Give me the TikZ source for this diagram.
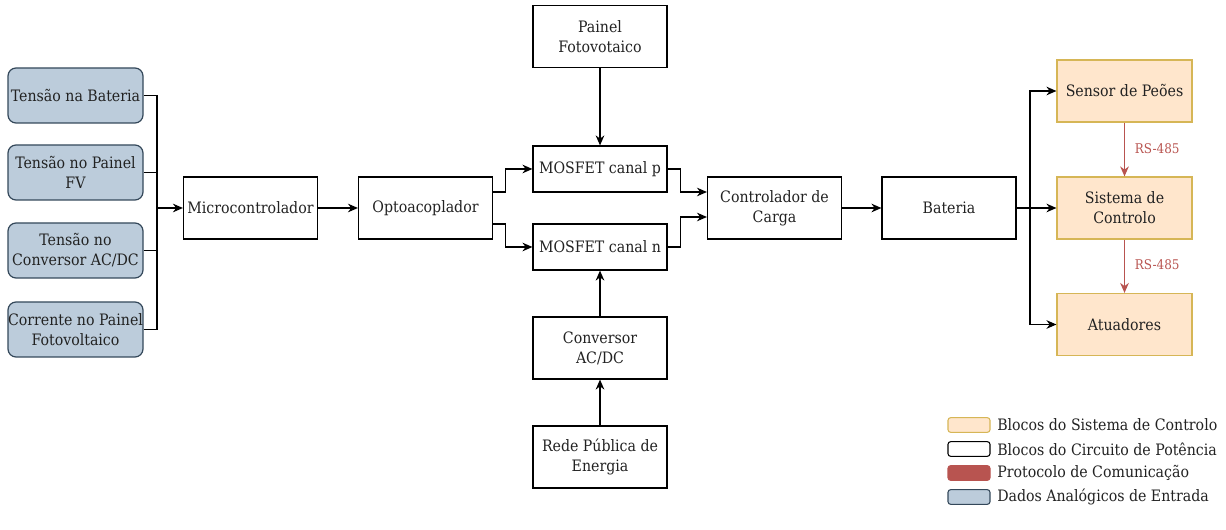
\documentclass[tikz,border=0pt]{standalone}
\usepackage{fontspec}
\setmainfont{DejaVu Serif Condensed}
\usetikzlibrary{arrows.meta}
\definecolor{txt}{HTML}{222222}
\definecolor{inFill}{HTML}{BCCCDB}
\definecolor{inLine}{HTML}{34485A}
\definecolor{ctlFill}{HTML}{FFE6CC}
\definecolor{ctlLine}{HTML}{D6B656}
\definecolor{comm}{HTML}{B85450}
\begin{document}
\begin{tikzpicture}[x=0.75pt,y=-0.75pt,
  every node/.style={text=txt, font=\fontsize{11.8}{15}\selectfont},
  base/.style={draw, line width=0.9pt, align=center, inner sep=0pt,
    minimum width=100.5pt, minimum height=46.5pt},
  pwr/.style={base, draw=black, fill=white},
  inbox/.style={base, draw=inLine, fill=inFill, rounded corners=6pt,
    minimum width=101.25pt, minimum height=41.25pt},
  ctl/.style={base, draw=ctlLine, fill=ctlFill, minimum width=101.25pt},
  wire/.style={draw=black, line width=0.9pt},
  arr/.style={wire, -{Stealth[length=7.5pt,width=6.5pt]}},
  rsarr/.style={draw=comm, line width=0.9pt, -{Stealth[length=7.5pt,width=6.5pt]}},
  rslabel/.style={text=comm, font=\fontsize{10}{12}\selectfont, anchor=west},
  swatch/.style={draw, line width=0.8pt, rounded corners=2pt,
    minimum width=31.5pt, minimum height=11pt, inner sep=0pt},
  legtxt/.style={anchor=west, inner sep=0pt}
]
\useasboundingbox (0,0) rectangle (1226,530);

% analogue input blocks
\node[inbox] (vbat) at (75.5,95.5) {Tensão na Bateria};
\node[inbox] (vpv)  at (75.5,172.5) {Tensão no Painel\\FV};
\node[inbox] (vac)  at (75.5,250.5) {Tensão no\\Conversor AC/DC};
\node[inbox] (ipv)  at (75.5,329.5) {Corrente no Painel\\Fotovoltaico};

% power circuit blocks
\node[pwr] (mcu)  at (250.5,208) {Microcontrolador};
\node[pwr] (opto) at (425.5,208) {Optoacoplador};
\node[pwr] (pv)   at (600,36.5) {Painel\\Fotovotaico};
\node[pwr, minimum height=34.5pt] (mp) at (600,169) {MOSFET canal p};
\node[pwr, minimum height=34.5pt] (mn) at (600,247) {MOSFET canal n};
\node[pwr] (conv) at (600,348) {Conversor\\AC/DC};
\node[pwr] (grid) at (600,457) {Rede Pública de\\Energia};
\node[pwr] (chg)  at (774.5,208) {Controlador de\\Carga};
\node[pwr] (bat)  at (949,208) {Bateria};

% control system blocks
\node[ctl] (ped) at (1124.5,91) {Sensor de Peões};
\node[ctl] (sys) at (1124.5,208) {Sistema de\\Controlo};
\node[ctl] (act) at (1124.5,324.5) {Atuadores};

% input bus into the microcontroller
\coordinate (bus) at (157,208);
\draw[wire] (vbat.east) -| (bus);
\draw[wire] (ipv.east) -| (bus);
\draw[wire] (vpv.east) -- (vpv.east -| bus);
\draw[wire] (vac.east) -- (vac.east -| bus);
\draw[arr] (bus) -- (mcu.west);

\draw[arr] (mcu) -- (opto);

% optocoupler drives both MOSFETs
\draw[arr] ([yshift=12pt]opto.east) -- ++(12,0) |- (mp.west);
\draw[arr] ([yshift=-12pt]opto.east) -- ++(12,0) |- (mn.west);
\draw[arr] (pv) -- (mp);
\draw[arr] (conv) -- (mn);
\draw[arr] (grid) -- (conv);

% MOSFETs into the charge controller
\draw[arr] (mp.east) -- ++(13,0) |- ([yshift=12pt]chg.west);
\draw[arr] (mn.east) -- ++(13,0) |- ([yshift=-6.75pt]chg.west);
\draw[arr] (chg) -- (bat);

% battery feeds the control system
\coordinate (split) at (1030,208);
\draw[arr] (bat.east) -- (sys.west);
\draw[arr] (split) |- (ped.west);
\draw[arr] (split) |- (act.west);

% RS-485 links
\draw[rsarr] (ped) -- node[rslabel, xshift=4pt, yshift=1pt] {RS-485} (sys);
\draw[rsarr] (sys) -- node[rslabel, xshift=4pt, yshift=1pt] {RS-485} (act);

% legend
\node[swatch, draw=ctlLine, fill=ctlFill] (l1) at (969,425) {};
\node[legtxt] (t1) at (997,425) {Blocos do Sistema de Controlo};
\node[swatch, draw=black, fill=white] (l2) at (969,449) {};
\node[legtxt] (t2) at (997,449) {Blocos do Circuito de Potência};
\node[swatch, draw=comm, fill=comm] (l3) at (969,473) {};
\node[legtxt] (t3) at (997,473) {Protocolo de Comunicação};
\node[swatch, draw=inLine, fill=inFill] (l4) at (969,497) {};
\node[legtxt] (t4) at (997,497) {Dados Analógicos de Entrada};
\end{tikzpicture}
\end{document}
